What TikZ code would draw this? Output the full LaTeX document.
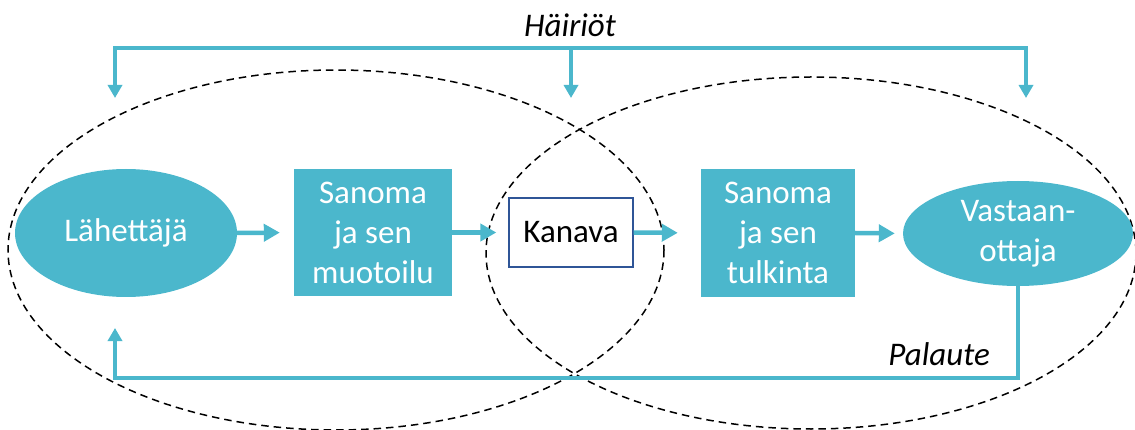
\documentclass[tikz,border=0pt]{standalone}
\usepackage{fontspec}
\setmainfont{Carlito}
\usetikzlibrary{shapes.geometric,arrows.meta}
\definecolor{teal}{HTML}{4BB7CC}
\definecolor{kborder}{HTML}{2F5597}
\begin{document}
\begin{tikzpicture}[x=1pt,y=-1pt,
  big/.style={font=\fontsize{33}{40}\selectfont},
  tealell/.style={ellipse,fill=teal,draw=none,text=white,inner sep=0pt,align=center,big},
  tealbox/.style={rectangle,fill=teal,draw=none,text=white,inner sep=0pt,align=center,big},
  kbox/.style={rectangle,fill=white,draw=kborder,line width=1.3pt,inner sep=0pt,align=center,big},
  flow/.style={draw=teal,line width=4.5pt,-{Triangle[length=16pt,width=17pt]}},
  vflow/.style={draw=teal,line width=4.5pt,-{Triangle[length=13pt,width=14pt]}},
  dash ell/.style={draw=black,line width=1.5pt,dash pattern=on 7.5pt off 5pt},
  lbl/.style={font=\fontsize{33}{40}\selectfont\itshape,inner sep=0pt}]
\useasboundingbox (0,0) rectangle (1135,430);
% dashed ellipses
\draw[dash ell] (336,250) ellipse [x radius=328, y radius=180];
\draw[dash ell] (811,253) ellipse [x radius=325, y radius=176];
% nodes
\node[tealell,minimum width=222pt,minimum height=128pt] (lah) at (126,233) {Lähettäjä};
\node[tealbox,minimum width=158pt,minimum height=127pt] (san1) at (373,232.5) {Sanoma\\ja sen\\muotoilu};
\node[kbox,minimum width=124pt,minimum height=69pt] (kan) at (571,232.5) {Kanava};
\node[tealbox,minimum width=154pt,minimum height=128pt] (san2) at (778,233) {Sanoma\\ja sen\\tulkinta};
\node[tealell,minimum width=230pt,minimum height=105pt] (vas) at (1018,233.5) {Vastaan-\\ottaja};
% horizontal flow
\draw[flow,shorten >=14pt] (lah.east) -- (san1.west);
\draw[flow,shorten >=12pt] (san1.east) -- (kan.west);
\draw[flow,shorten >=23pt] (kan.east) -- (san2.west);
\draw[flow,shorten >=8pt] (san2.east) -- (vas.west);
% disturbances
\node[lbl,anchor=base] (hai) at (570,37) {Häiriöt};
\coordinate (h1) at (115,48);
\coordinate (h2) at (571,48);
\coordinate (h3) at (1026,48);
\coordinate (t1) at (115,98);
\coordinate (t2) at (571,98);
\coordinate (t3) at (1026,98);
\draw[draw=teal,line width=4.5pt,{Triangle[length=13pt,width=14pt]}-{Triangle[length=13pt,width=14pt]}] (t1) -- (h1) -- (h3) -- (t3);
\draw[vflow] (h2) -- (t2);
% feedback
\coordinate (fbc) at (1018,378);
\coordinate (fbl) at (115,378);
\coordinate (fbt) at (115,328);
\draw[vflow] (vas.south) -- (fbc) -- (fbl) -- (fbt);
\node[lbl,anchor=base east] (pal) at (990,365) {Palaute};
\end{tikzpicture}
\end{document}
